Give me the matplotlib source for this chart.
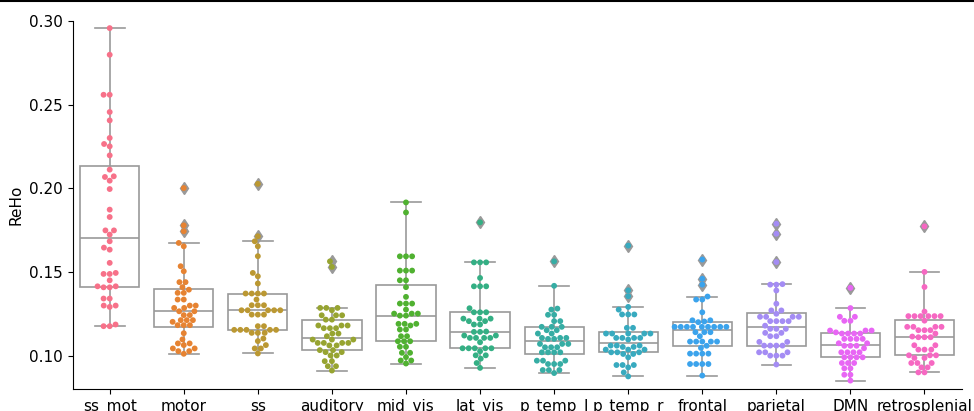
import matplotlib
matplotlib.use('Agg')
import matplotlib.pyplot as plt
from matplotlib.lines import Line2D
import numpy as np
import pandas as pd
import seaborn as sns

networks = ['ss_mot', 'motor', 'ss', 'auditory', 'mid_vis', 'lat_vis',
            'p_temp_l', 'p_temp_r', 'frontal', 'parietal', 'DMN', 'retrosplenial']

ss_mot = [0.2957, 0.2798, 0.2559, 0.2559, 0.2456, 0.2406, 0.2301, 0.2265, 0.2251, 0.2197,
          0.2112, 0.2068, 0.2046, 0.2072, 0.1996, 0.1873, 0.1829, 0.1749, 0.1749, 0.1724,
          0.1684, 0.1646, 0.1634, 0.1555, 0.1489, 0.1489, 0.1495, 0.1451, 0.1409, 0.1409,
          0.1415, 0.1415, 0.1342, 0.1342, 0.1300, 0.1292, 0.1300, 0.1177, 0.1177, 0.1187]
motor = [0.2002, 0.1779, 0.1744, 0.1674, 0.1654, 0.1535, 0.1505, 0.1440, 0.1440, 0.1410,
         0.1395, 0.1376, 0.1376, 0.1336, 0.1336, 0.1300, 0.1300, 0.1286, 0.1286, 0.1266,
         0.1266, 0.1243, 0.1243, 0.1213, 0.1213, 0.1213, 0.1203, 0.1183, 0.1183, 0.1183,
         0.1135, 0.1098, 0.1074, 0.1074, 0.1064, 0.1044, 0.1044, 0.1028, 0.1028, 0.1012]
ss = [0.2027, 0.1714, 0.1684, 0.1654, 0.1595, 0.1495, 0.1475, 0.1432, 0.1372, 0.1372,
      0.1372, 0.1372, 0.1336, 0.1302, 0.1302, 0.1302, 0.1272, 0.1272, 0.1272, 0.1272,
      0.1272, 0.1246, 0.1246, 0.1246, 0.1177, 0.1177, 0.1155, 0.1155, 0.1155, 0.1155,
      0.1155, 0.1137, 0.1137, 0.1137, 0.1103, 0.1088, 0.1064, 0.1044, 0.1044, 0.1014]
auditory = [0.1564, 0.1531, 0.1286, 0.1286, 0.1286, 0.1272, 0.1242, 0.1242, 0.1242, 0.1216,
            0.1216, 0.1181, 0.1181, 0.1181, 0.1165, 0.1165, 0.1165, 0.1133, 0.1133, 0.1117,
            0.1097, 0.1097, 0.1097, 0.1077, 0.1077, 0.1077, 0.1077, 0.1062, 0.1062, 0.1034,
            0.1034, 0.1022, 0.1022, 0.1002, 0.1002, 0.0968, 0.0968, 0.0938, 0.0938, 0.0912]
mid_vis = [0.1916, 0.1856, 0.1594, 0.1594, 0.1594, 0.1509, 0.1509, 0.1509, 0.1451, 0.1451,
           0.1410, 0.1352, 0.1312, 0.1312, 0.1312, 0.1276, 0.1252, 0.1252, 0.1252, 0.1240,
           0.1240, 0.1191, 0.1191, 0.1191, 0.1181, 0.1157, 0.1157, 0.1117, 0.1117, 0.1087,
           0.1087, 0.1087, 0.1054, 0.1054, 0.1018, 0.1018, 0.0992, 0.0972, 0.0972, 0.0954]
lat_vis = [0.1797, 0.1558, 0.1558, 0.1558, 0.1465, 0.1415, 0.1415, 0.1415, 0.1284, 0.1260,
           0.1260, 0.1260, 0.1222, 0.1222, 0.1222, 0.1207, 0.1207, 0.1187, 0.1187, 0.1145,
           0.1143, 0.1143, 0.1121, 0.1121, 0.1107, 0.1107, 0.1107, 0.1107, 0.1081, 0.1045,
           0.1045, 0.1045, 0.1045, 0.1045, 0.1027, 0.1003, 0.1003, 0.0983, 0.0957, 0.0928]
p_temp_l = [0.1564, 0.1418, 0.1282, 0.1276, 0.1245, 0.1245, 0.1207, 0.1207, 0.1173, 0.1173,
            0.1173, 0.1153, 0.1153, 0.1133, 0.1133, 0.1107, 0.1107, 0.1107, 0.1101, 0.1101,
            0.1071, 0.1071, 0.1071, 0.1051, 0.1051, 0.1051, 0.1021, 0.1021, 0.1021, 0.1021,
            0.0971, 0.0971, 0.0971, 0.0951, 0.0951, 0.0951, 0.0915, 0.0915, 0.0915, 0.0897]
p_temp_r = [0.1658, 0.1391, 0.1356, 0.1292, 0.1276, 0.1247, 0.1247, 0.1247, 0.1167, 0.1167,
            0.1133, 0.1133, 0.1133, 0.1133, 0.1133, 0.1107, 0.1107, 0.1107, 0.1107, 0.1097,
            0.1061, 0.1061, 0.1061, 0.1053, 0.1053, 0.1037, 0.1037, 0.1037, 0.1021, 0.1021,
            0.1021, 0.1011, 0.1011, 0.0991, 0.0945, 0.0945, 0.0945, 0.0931, 0.0901, 0.0877]
frontal = [0.1575, 0.1460, 0.1425, 0.1354, 0.1336, 0.1336, 0.1260, 0.1212, 0.1212, 0.1205,
           0.1201, 0.1173, 0.1173, 0.1173, 0.1173, 0.1173, 0.1173, 0.1173, 0.1173, 0.1173,
           0.1141, 0.1141, 0.1141, 0.1117, 0.1085, 0.1085, 0.1085, 0.1085, 0.1085, 0.1060,
           0.1047, 0.1013, 0.1013, 0.1013, 0.1013, 0.0951, 0.0951, 0.0951, 0.0951, 0.0882]
parietal = [0.1789, 0.1729, 0.1560, 0.1428, 0.1425, 0.1425, 0.1390, 0.1311, 0.1271, 0.1271,
            0.1251, 0.1233, 0.1233, 0.1233, 0.1233, 0.1207, 0.1207, 0.1207, 0.1207, 0.1180,
            0.1161, 0.1161, 0.1161, 0.1137, 0.1137, 0.1117, 0.1117, 0.1083, 0.1083, 0.1061,
            0.1061, 0.1061, 0.1061, 0.1021, 0.1021, 0.1021, 0.1001, 0.1001, 0.1001, 0.0948]
dmn = [0.1406, 0.1285, 0.1233, 0.1233, 0.1209, 0.1209, 0.1151, 0.1151, 0.1151, 0.1140,
       0.1133, 0.1133, 0.1133, 0.1133, 0.1101, 0.1101, 0.1101, 0.1101, 0.1075, 0.1075,
       0.1060, 0.1060, 0.1060, 0.1045, 0.1021, 0.1021, 0.1021, 0.1021, 0.0991, 0.0991,
       0.0991, 0.0991, 0.0957, 0.0957, 0.0957, 0.0925, 0.0925, 0.0887, 0.0887, 0.0852]
retrosplenial = [0.1773, 0.1501, 0.1411, 0.1264, 0.1237, 0.1237, 0.1237, 0.1237, 0.1237, 0.1237,
                 0.1210, 0.1173, 0.1173, 0.1173, 0.1173, 0.1153, 0.1153, 0.1153, 0.1133, 0.1115,
                 0.1111, 0.1111, 0.1111, 0.1063, 0.1063, 0.1037, 0.1037, 0.1037, 0.1003, 0.1003,
                 0.1003, 0.0987, 0.0987, 0.0957, 0.0957, 0.0957, 0.0931, 0.0931, 0.0901, 0.0901]

values = [ss_mot, motor, ss, auditory, mid_vis, lat_vis,
          p_temp_l, p_temp_r, frontal, parietal, dmn, retrosplenial]


def main():
    df = pd.DataFrame({
        'network': np.repeat(networks, [len(v) for v in values]),
        'ReHo': np.concatenate(values),
    })

    fig = plt.figure(figsize=(9.74, 4.11), dpi=100)
    ax = fig.add_axes([0.0746, 0.0528, 0.9126, 0.8963])

    grey = '#999999'
    ax.boxplot(values, positions=range(len(networks)), widths=0.8,
               patch_artist=True,
               boxprops=dict(facecolor='white', edgecolor=grey, linewidth=1.2),
               whiskerprops=dict(color=grey, linewidth=1.2),
               capprops=dict(color=grey, linewidth=1.2),
               medianprops=dict(color=grey, linewidth=1.2),
               flierprops=dict(marker='d', markerfacecolor=grey,
                               markeredgecolor=grey, markersize=6.5),
               zorder=1)

    sns.swarmplot(data=df, x='network', y='ReHo', hue='network', order=networks,
                  palette=sns.husl_palette(len(networks)), size=4.2,
                  legend=False, ax=ax, zorder=3)

    ax.set_xlim(-0.5, len(networks) - 0.5)
    ax.set_ylim(0.08, 0.30)
    ax.set_yticks([0.10, 0.15, 0.20, 0.25, 0.30])
    ax.set_yticklabels(['%.2f' % t for t in [0.10, 0.15, 0.20, 0.25, 0.30]])
    ax.set_xticks(range(len(networks)))
    ax.set_xticklabels(networks)
    ax.tick_params(labelsize=11)
    ax.set_xlabel('')
    ax.set_ylabel('ReHo', fontsize=11)
    ax.spines['top'].set_visible(False)
    ax.spines['right'].set_visible(False)

    # dark rule along the top edge, as in the source image
    fig.add_artist(Line2D([0, 1], [0.998, 0.998], color='black',
                          linewidth=1.5, transform=fig.transFigure))

    fig.savefig('out.png', dpi=100)


if __name__ == '__main__':
    main()
